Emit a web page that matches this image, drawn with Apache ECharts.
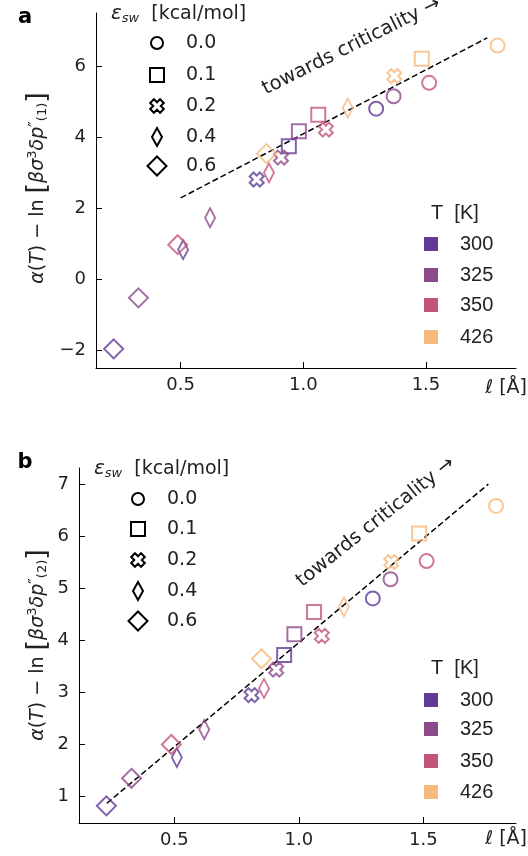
<!DOCTYPE html>
<html>
<head>
<meta charset="utf-8">
<script src="https://cdn.jsdelivr.net/npm/echarts@6/dist/echarts.min.js"></script>
<style>
html,body{margin:0;padding:0;background:#fff;}
#c{width:528px;height:856px;}
</style>
</head>
<body>
<div id="c"></div>
<script>
// ---------- data ----------
const T_LABELS = ['300', '325', '350', '426'];
const EPS_LABELS = ['0.0', '0.1', '0.2', '0.4', '0.6'];

// ℓ [Å] for each eps, ordered by T (300, 325, 350, 426)
const ell_e00 = [1.297, 1.368, 1.513, 1.792];
const ell_e01 = [0.941, 0.982, 1.061, 1.483];
const ell_e02 = [0.810, 0.909, 1.092, 1.371];
const ell_e04 = [0.510, 0.620, 0.860, 1.181];
const ell_e06 = [0.227, 0.328, 0.488, 0.850];

// panel a: alpha(T) - ln[beta sigma^3 delta p''_(1)]
const a_e00 = [4.81, 5.16, 5.54, 6.59];
const a_e01 = [3.75, 4.17, 4.64, 6.22];
const a_e02 = [2.81, 3.43, 4.22, 5.73];
const a_e04 = [0.83, 1.73, 3.00, 4.83];
const a_e06 = [-1.97, -0.53, 0.97, 3.54];

// panel b: alpha(T) - ln[beta sigma^3 delta p''_(2)]
const b_e00 = [4.80, 5.17, 5.52, 6.58];
const b_e01 = [3.71, 4.11, 4.54, 6.05];
const b_e02 = [2.94, 3.43, 4.08, 5.50];
const b_e04 = [1.74, 2.28, 3.07, 4.64];
const b_e06 = [0.81, 1.34, 1.99, 3.64];

// dashed guide lines (endpoints)
const fitA_x = [0.50, 1.75];
const fitA_y = [2.29, 6.81];
const fitB_x = [0.229, 1.761];
const fitB_y = [0.86, 7.00];

const xTicks = [0.5, 1.0, 1.5];
const yTicksA = [-2, 0, 2, 4, 6];
const yTicksB = [1, 2, 3, 4, 5, 6, 7];

// ---------- styles ----------
const T_COLORS = ['#5f3b95', '#8d4a8b', '#c4557a', '#f8b97c'];
const CROSS_PATH = 'path://M143.8 2.4L197.6 56.2L153.7 100L197.6 143.8L143.8 197.6L100 153.7L56.2 197.6L2.4 143.8L46.3 100L2.4 56.2L56.2 2.4L100 46.3Z';
const CROSS_PTS = [[0.438,-0.976],[0.976,-0.438],[0.537,0],[0.976,0.438],[0.438,0.976],[0,0.537],[-0.438,0.976],[-0.976,0.438],[-0.537,0],[-0.976,-0.438],[-0.438,-0.976],[0,-0.537]];
const SYMBOLS = [
  {sym: 'circle', size: 14},
  {sym: 'rect', size: 14},
  {sym: CROSS_PATH, size: 14},
  {sym: 'diamond', size: [10, 19]},
  {sym: 'diamond', size: 19}
];
const FONT = 'DejaVu Sans';
const TXT = '#222';

const ells = [ell_e00, ell_e01, ell_e02, ell_e04, ell_e06];
const ysA = [a_e00, a_e01, a_e02, a_e04, a_e06];
const ysB = [b_e00, b_e01, b_e02, b_e04, b_e06];

function scatter(idx, ell, ys, k) {
  return {
    type: 'scatter', xAxisIndex: idx, yAxisIndex: idx, silent: true,
    symbol: SYMBOLS[k].sym, symbolSize: SYMBOLS[k].size,
    itemStyle: {color: 'rgba(0,0,0,0)', borderWidth: 2},
    data: ell.map((x, i) => ({value: [x, ys[i]], itemStyle: {borderColor: T_COLORS[i], color: 'rgba(0,0,0,0)', borderWidth: 2}}))
  };
}
function guide(idx, xs, ys) {
  return {
    type: 'line', xAxisIndex: idx, yAxisIndex: idx, silent: true, symbol: 'none',
    lineStyle: {color: '#000', width: 1.5, type: [6, 3]},
    data: xs.map((x, i) => [x, ys[i]]), z: 1
  };
}
function xAxisCfg(idx, min, max) {
  return {
    type: 'value', gridIndex: idx, min, max,
    axisLine: {onZero: false, lineStyle: {color: '#000', width: 1}},
    axisTick: {inside: true, length: 6, customValues: xTicks, lineStyle: {color: '#000'}},
    axisLabel: {customValues: xTicks, margin: 8, fontFamily: FONT, fontSize: 18, color: TXT, formatter: v => v.toFixed(1)},
    splitLine: {show: false}
  };
}
function yAxisCfg(idx, min, max, ticks) {
  return {
    type: 'value', gridIndex: idx, min, max,
    axisLine: {show: true, onZero: false, lineStyle: {color: '#000', width: 1}},
    axisTick: {show: true, inside: true, length: 6, customValues: ticks, lineStyle: {color: '#000'}},
    axisLabel: {customValues: ticks, margin: 10, fontFamily: FONT, fontSize: 18, color: TXT, formatter: v => String(v).replace('-', '\u2212')},
    splitLine: {show: false}
  };
}

// ---------- graphic helpers (legends / text) ----------
function legendMarker(k, cx, cy) {
  const st = {fill: 'none', stroke: '#000', lineWidth: 2};
  if (k === 0) return {type: 'circle', shape: {cx, cy, r: 6}, style: st};
  if (k === 1) return {type: 'rect', shape: {x: cx - 7, y: cy - 7, width: 14, height: 14}, style: st};
  if (k === 2) return {type: 'polygon', shape: {points: CROSS_PTS.map(p => [cx + p[0] * 7, cy + p[1] * 7])}, style: st};
  if (k === 3) return {type: 'polygon', shape: {points: [[cx, cy - 9], [cx + 5, cy], [cx, cy + 9], [cx - 5, cy]]}, style: st};
  return {type: 'polygon', shape: {points: [[cx, cy - 9.5], [cx + 9.5, cy], [cx, cy + 9.5], [cx - 9.5, cy]]}, style: st};
}
function txt(x, y, text) {
  return {type: 'text', x, y, style: {text, fill: TXT, font: '19px "' + FONT + '"', textAlign: 'left', textVerticalAlign: 'middle'}};
}
function epsLegend(hx, hy, mx, tx, rows) {
  const g = [];
  g.push({type: 'text', x: hx, y: hy, style: {
    text: '{e|ε}{s|sw} [kcal/mol]', fill: TXT, font: '19px "' + FONT + '"', textAlign: 'left', textVerticalAlign: 'middle',
    rich: {e: {fontStyle: 'italic', fontSize: 20, fontFamily: FONT, fill: TXT}, s: {fontStyle: 'italic', fontSize: 13, fontFamily: FONT, fill: TXT, padding: [9, 6, 0, 0]}}
  }});
  EPS_LABELS.forEach((lab, k) => {
    g.push(legendMarker(k, mx, rows[k]));
    g.push(txt(tx, rows[k], lab));
  });
  return g;
}
function tLegend(hx, hy, sx, tx, rows) {
  const g = [];
  g.push({type: 'text', x: hx, y: hy, style: {text: 'T  [K]', fill: TXT, font: '20px "Liberation Sans"', textAlign: 'left', textVerticalAlign: 'middle'}});
  T_LABELS.forEach((lab, i) => {
    g.push({type: 'rect', shape: {x: sx - 7, y: rows[i] - 7, width: 14, height: 14}, style: {fill: T_COLORS[i]}});
    g.push({type: 'text', x: tx, y: rows[i], style: {text: lab, fill: TXT, font: '20px "Liberation Sans"', textAlign: 'left', textVerticalAlign: 'middle'}});
  });
  return g;
}
function yLabel(cx, cy, n) {
  return {type: 'text', x: cx, y: cy, rotation: Math.PI / 2, style: {
    text: '{i|α}({i|T}) − ln {br|[}{i|βσ}{sup|3}{i|δp}{pr|″}{sub|(' + n + ')}{br|]}',
    fill: TXT, font: '19px "' + FONT + '"', textAlign: 'center', textVerticalAlign: 'middle',
    rich: {
      i: {fontStyle: 'italic', fontSize: 19, fontFamily: FONT, fill: TXT},
      br: {fontSize: 27, fontFamily: FONT, fill: TXT},
      sup: {fontSize: 13, fontFamily: FONT, fill: TXT, padding: [0, 0, 10, 0]},
      pr: {fontSize: 15, fontFamily: FONT, fill: TXT, padding: [0, 0, 4, 0]},
      sub: {fontSize: 13, fontFamily: FONT, fill: TXT, padding: [10, 0, 0, 0]}
    }
  }};
}
function xLabel(rx, cy) {
  return {type: 'text', x: rx, y: cy, style: {
    text: '{i|ℓ} [Å]', fill: TXT, font: '19px "' + FONT + '"', textAlign: 'right', textVerticalAlign: 'middle',
    rich: {i: {fontStyle: 'italic', fontSize: 19, fontFamily: FONT, fill: TXT}}
  }};
}
function annot(x, y, deg) {
  return {type: 'text', x, y, rotation: deg * Math.PI / 180, style: {
    text: 'towards criticality →', fill: TXT, font: '19.5px "' + FONT + '"', textAlign: 'left', textVerticalAlign: 'bottom'
  }};
}

const graphics = [].concat(
  [{type: 'text', x: 25, y: 18, style: {text: 'a', fill: '#000', font: 'bold 21px "' + FONT + '"', textAlign: 'center', textVerticalAlign: 'middle'}},
   {type: 'text', x: 25, y: 463, style: {text: 'b', fill: '#000', font: 'bold 21px "' + FONT + '"', textAlign: 'center', textVerticalAlign: 'middle'}}],
  epsLegend(111, 14, 157, 186, [43, 75, 106, 137, 166]),
  epsLegend(94, 469, 138, 167, [499, 529, 560, 591, 621]),
  tLegend(431, 213, 431, 460, [244, 275, 305, 337]),
  tLegend(431, 668, 431, 460, [700, 729, 761, 792]),
  [yLabel(38, 188, 1), yLabel(38, 645, 2), xLabel(527, 388), xLabel(527, 839),
   annot(268, 99, 26.5), annot(305, 591, 38.5)]
);

const series = [];
for (let k = 0; k < 5; k++) series.push(scatter(0, ells[k], ysA[k], k));
for (let k = 0; k < 5; k++) series.push(scatter(1, ells[k], ysB[k], k));
series.push(guide(0, fitA_x, fitA_y));
series.push(guide(1, fitB_x, fitB_y));

const chart = echarts.init(document.getElementById('c'), null, {renderer: 'canvas'});
chart.setOption({
  animation: false,
  backgroundColor: '#fff',
  grid: [
    {left: 96, top: 13, width: 420, height: 355},
    {left: 79, top: 468, width: 437, height: 355}
  ],
  xAxis: [xAxisCfg(0, 0.155, 1.867), xAxisCfg(1, 0.117, 1.872)],
  yAxis: [yAxisCfg(0, -2.51, 7.51, yTicksA), yAxisCfg(1, 0.48, 7.31, yTicksB)],
  series,
  graphic: graphics
});
</script>
</body>
</html>
